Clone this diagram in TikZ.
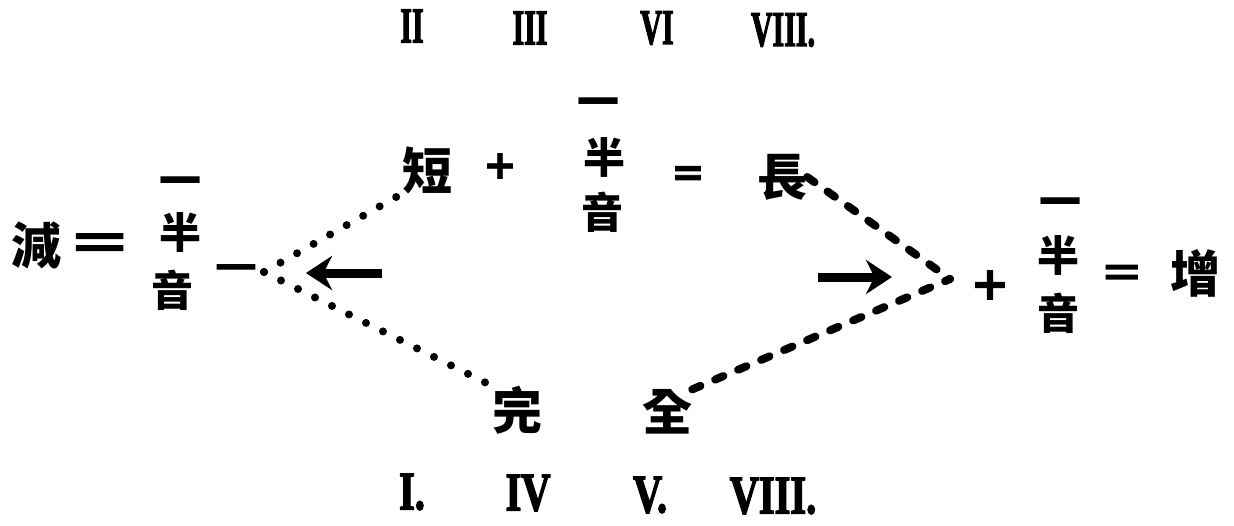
\documentclass[tikz,border=0pt]{standalone}
\usepackage{fontspec}
\usetikzlibrary{arrows.meta}
\newfontfamily\cjk{Noto Sans CJK TC}
\newfontfamily\rnum{Liberation Serif Bold}[FakeBold=3]
\newfontfamily\opfont{DejaVu Sans Bold}[FakeBold=2]
\begin{document}
\begin{tikzpicture}[x=1pt,y=-1pt]
\useasboundingbox[fill=white] (0,0) rectangle (1234,525);
\tikzset{
 zh/.style={font=\cjk\bfseries\fontsize{50}{50}\selectfont, inner sep=0pt},
 zhs/.style={font=\cjk\bfseries\fontsize{42}{42}\selectfont, inner sep=0pt},
 rntop/.style={font=\rnum\fontsize{50}{50}\selectfont, inner sep=0pt, xscale=0.6, transform shape},
 rnbot/.style={font=\rnum\fontsize{54}{54}\selectfont, inner sep=0pt, xscale=0.75, transform shape},
 op/.style={font=\opfont\fontsize{40}{40}\selectfont, inner sep=0pt},
 dotline/.style={line width=8pt, line cap=round, dash pattern=on 0pt off 19pt},
 dashline/.style={line width=8pt, line cap=round, dash pattern=on 9pt off 16pt},
 bigarrow/.style={line width=9pt, -{Stealth[length=26pt,width=34pt]}},
}
% top numerals
\node[rntop] (t2) at (412,26) {II};
\node[rntop] (t3) at (530,28) {III};
\node[rntop] (t6) at (657,28) {VI};
\node[rntop] (t8) at (783,30) {VIII.};
% middle equation
\node[zh] (duan) at (427,170) {短};
\node[op] (plusm) at (500,166) {+};
\node[zhs] (yim) at (598,108) {一};
\node[zhs] (banm) at (604,157) {半};
\node[zhs] (yinm) at (602,212) {音};
\node[op] (eqm) at (688,176) {=};
\node[zh] (chang) at (782,177) {長};
% left group
\node[zh] (jian) at (37,245) {減};
\node[font=\rnum\fontsize{60}{60}\selectfont, inner sep=0pt, xscale=1.6, transform shape] (eql) at (100,248) {=};
\node[zhs] (yil) at (180,187) {一};
\node[zhs] (banl) at (180,232) {半};
\node[zhs] (yinl) at (172,290) {音};
\node[op, xscale=1.5, transform shape] (minusl) at (236,272) {−};
\coordinate (cl) at (264,272);
\coordinate (al1) at (382,273);
\coordinate (al2) at (306,273);
% right group
\coordinate (cr) at (950,279);
\coordinate (ar1) at (818,277);
\coordinate (ar2) at (892,277);
\node[op, scale=1.15, transform shape] (plusr) at (990,285) {+};
\node[zhs] (yir) at (1060,208) {一};
\node[zhs] (banr) at (1058,255) {半};
\node[zhs] (yinr) at (1058,313) {音};
\node[font=\rnum\fontsize{50}{50}\selectfont, inner sep=0pt, xscale=1.3, transform shape] (eqr) at (1122,277) {=};
\node[zh] (zeng) at (1195,273) {增};
% bottom
\node[zh] (wan) at (517,410) {完};
\node[zh] (quan) at (667,412) {全};
\node[rnbot] (b1) at (412,492) {I.};
\node[rnbot] (b4) at (528,493) {IV};
\node[rnbot] (b5) at (650,495) {V.};
\node[rnbot] (b8) at (773,496) {VIII.};
% connectors
\draw[dotline] (cl) -- (duan.south west);
\draw[dotline] (cl) -- (wan.north west);
\draw[dashline] (chang.east) -- (cr);
\draw[dashline] (quan.north east) -- (cr);
\draw[bigarrow] (al1) -- (al2);
\draw[bigarrow] (ar1) -- (ar2);
\end{tikzpicture}
\end{document}
